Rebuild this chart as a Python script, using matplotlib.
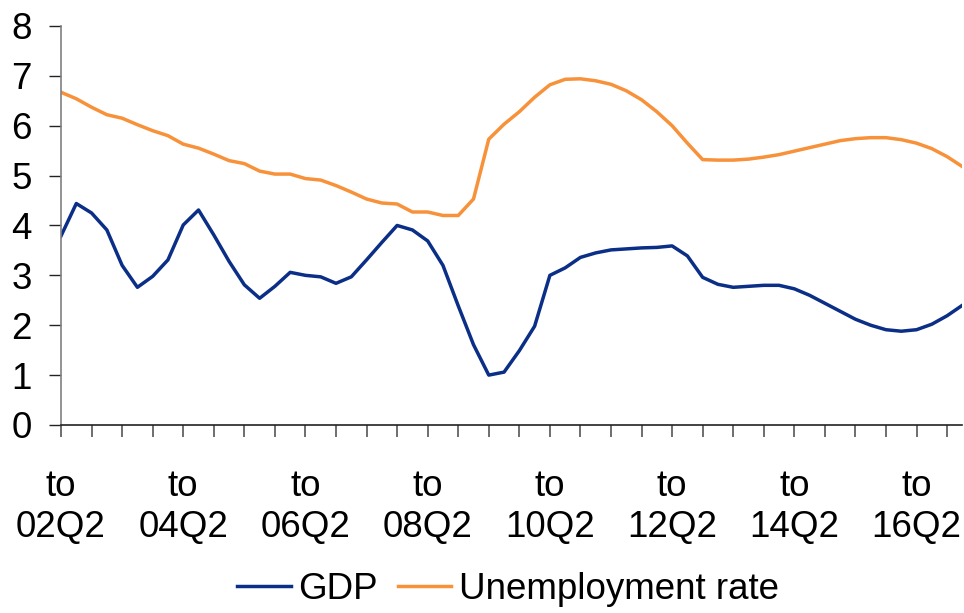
import numpy as np
import matplotlib
matplotlib.use("Agg")
import matplotlib.pyplot as plt
from matplotlib import font_manager

# Year-on-year growth (GDP) and unemployment rate, quarterly from 02Q2 to 17Q1
gdp = [3.79, 4.44, 4.25, 3.91, 3.20, 2.76, 2.98, 3.31, 4.01, 4.31,
       3.81, 3.28, 2.81, 2.54, 2.78, 3.06, 3.00, 2.97, 2.84, 2.97,
       3.31, 3.66, 4.00, 3.91, 3.69, 3.20, 2.39, 1.61, 1.00, 1.06,
       1.49, 1.98, 3.00, 3.15, 3.36, 3.45, 3.51, 3.53, 3.55, 3.56,
       3.59, 3.39, 2.96, 2.82, 2.76, 2.78, 2.80, 2.80, 2.73, 2.60,
       2.44, 2.28, 2.12, 2.00, 1.91, 1.88, 1.91, 2.02, 2.19, 2.40]
unemployment = [6.67, 6.54, 6.37, 6.22, 6.15, 6.02, 5.90, 5.80, 5.63, 5.55,
                 5.43, 5.30, 5.24, 5.09, 5.03, 5.03, 4.94, 4.91, 4.80, 4.67,
                 4.53, 4.45, 4.43, 4.27, 4.27, 4.20, 4.20, 4.53, 5.73, 6.03,
                 6.28, 6.57, 6.82, 6.93, 6.94, 6.90, 6.83, 6.70, 6.52, 6.28,
                 6.00, 5.65, 5.32, 5.31, 5.31, 5.33, 5.37, 5.42, 5.49, 5.56,
                 5.63, 5.70, 5.74, 5.76, 5.76, 5.72, 5.65, 5.54, 5.38, 5.18]

tick_labels = ["to\n02Q2", "to\n04Q2", "to\n06Q2", "to\n08Q2",
               "to\n10Q2", "to\n12Q2", "to\n14Q2", "to\n16Q2"]
y_ticks = [0, 1, 2, 3, 4, 5, 6, 7, 8]

# pick a condensed face if one is installed
names = {f.name for f in font_manager.fontManager.ttflist}
family = "Liberation Sans Narrow" if "Liberation Sans Narrow" in names else "Liberation Sans"
plt.rcParams["font.family"] = [family, "DejaVu Sans"]
fs = 26.5

fig = plt.figure(figsize=(9.64, 6.13), dpi=100)
ax = fig.add_axes([0.0633, 0.3067, 0.935, 0.651])

x = np.arange(len(gdp))
ax.plot(x, gdp, color="#0b2f87", lw=2.5, label="GDP", solid_joinstyle="round")
ax.plot(x, unemployment, color="#f7923a", lw=2.5, label="Unemployment rate",
        solid_joinstyle="round")

ax.set_xlim(0, len(gdp) - 1)
ax.set_ylim(0, 8)
ax.set_yticks(y_ticks)
ax.set_xticks(np.arange(0, len(gdp), 8))
ax.set_xticklabels(tick_labels, linespacing=1.25)
ax.set_xticks(np.arange(0, len(gdp), 2), minor=True)

for side in ["top", "right"]:
    ax.spines[side].set_visible(False)
ax.spines["left"].set_color("#808080")
ax.spines["left"].set_linewidth(1.2)
ax.spines["bottom"].set_color("#222222")
ax.spines["bottom"].set_linewidth(1.2)

ax.tick_params(axis="y", direction="out", length=9, width=1.0, color="#222222",
               labelsize=fs, pad=12)
ax.tick_params(axis="x", which="both", direction="out", length=8.5, width=1.2,
               color="#555555")
ax.tick_params(axis="x", which="major", labelsize=fs, pad=23)

fig.legend(loc="lower center", bbox_to_anchor=(0.527, -0.044), ncol=2,
           frameon=False, fontsize=fs, handlelength=1.45, handletextpad=0.2,
           columnspacing=0.55)

fig.savefig("out.png", dpi=100)
